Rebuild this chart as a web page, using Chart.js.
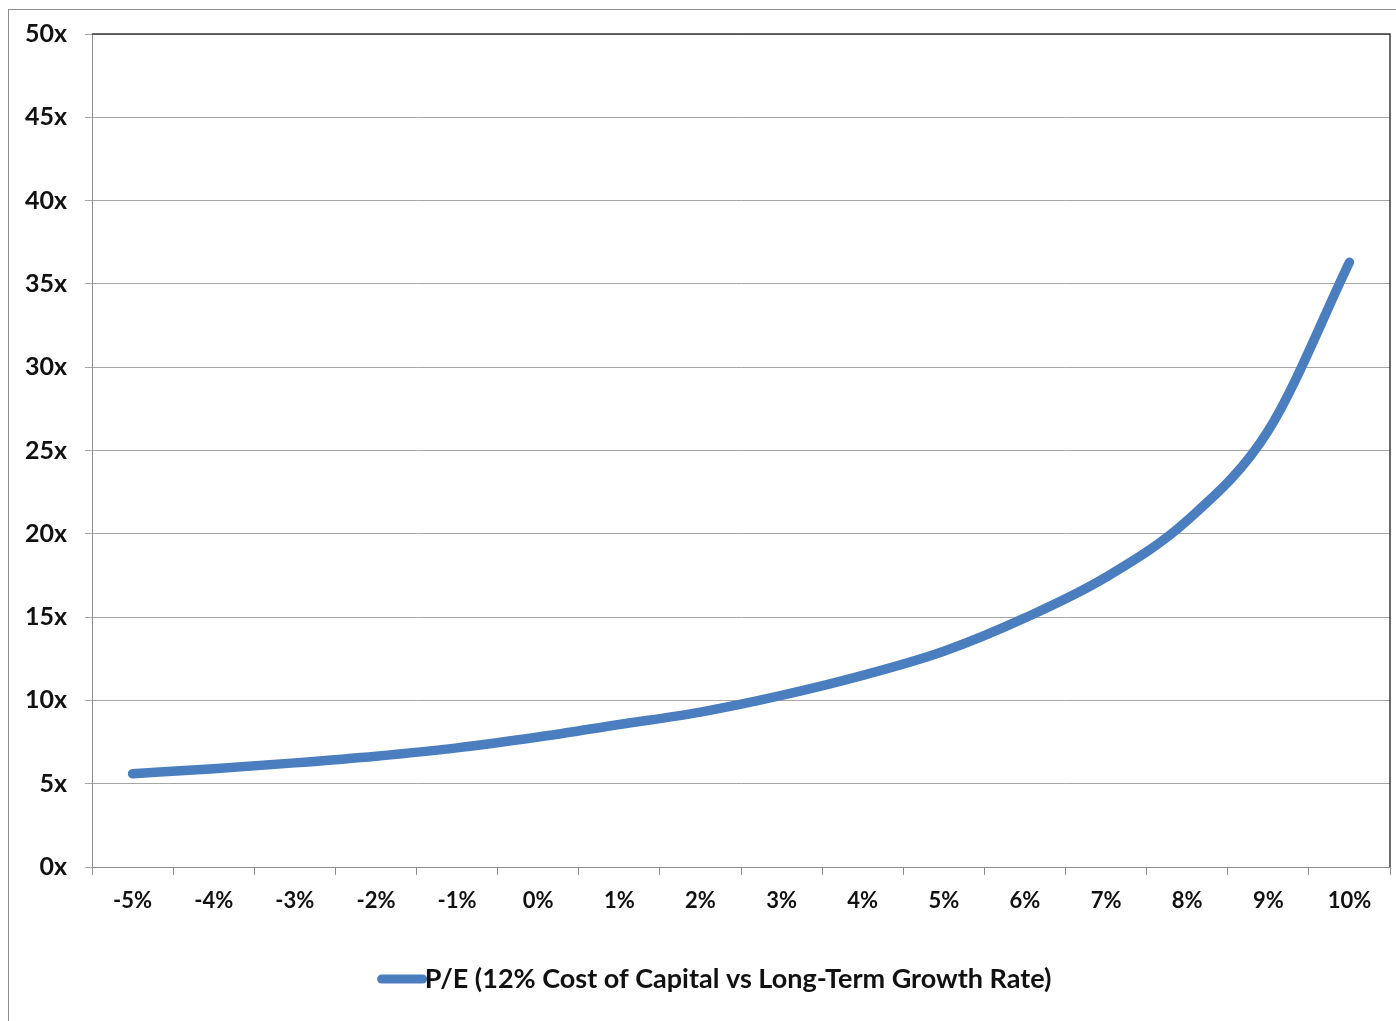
<!DOCTYPE html>
<html>
<head>
<meta charset="utf-8">
<script src="https://cdn.jsdelivr.net/npm/chart.js@4.4.1/dist/chart.umd.min.js"></script>
<style>
  html, body { margin: 0; padding: 0; background: #ffffff; overflow: hidden; }
  #frame { position: absolute; left: 8px; top: 9px; width: 1400px; height: 1030px; border: 1px solid #8c8c8c; box-sizing: border-box; }
  #wrap { position: absolute; left: 0; top: 0; width: 1396px; height: 1021px; }
</style>
</head>
<body>
<div id="frame"></div>
<div id="wrap"><canvas id="c" width="1396" height="1021"></canvas></div>
<script>
const categories = ['-5%', '-4%', '-3%', '-2%', '-1%', '0%', '1%', '2%', '3%', '4%', '5%', '6%', '7%', '8%', '9%', '10%'];
const peValues = [5.6, 5.9, 6.25, 6.65, 7.15, 7.8, 8.55, 9.3, 10.3, 11.5, 12.95, 14.95, 17.4, 20.8, 26.2, 36.3];
const seriesLabel = 'P/E (12% Cost of Capital vs Long-Term Growth Rate)';
const yMin = 0, yMax = 50, yStep = 5;

const FONT = 'Lato, "Open Sans", sans-serif';
const TEXT_COLOR = '#111111';
const LINE_COLOR = '#4a7ebf';

const plotBorder = {
  id: 'plotBorder',
  afterDatasetsDraw(chart) {
    const { ctx, chartArea: a } = chart;
    ctx.save();
    ctx.lineWidth = 1.5;
    ctx.strokeStyle = '#3a3a3a';
    ctx.beginPath();
    ctx.moveTo(a.left, a.top);
    ctx.lineTo(a.right, a.top);
    ctx.lineTo(a.right, a.bottom);
    ctx.stroke();
    ctx.restore();
  }
};

const customLegend = {
  id: 'customLegend',
  afterDraw(chart) {
    const { ctx } = chart;
    const ds = chart.data.datasets[0];
    ctx.save();
    ctx.font = 'bold 27px ' + FONT;
    const tw = ctx.measureText(ds.label).width;
    const sample = 48;
    const total = sample + tw;
    const cx = 714;
    const y = 979;
    const x0 = cx - total / 2;
    ctx.strokeStyle = ds.borderColor;
    ctx.lineWidth = 9;
    ctx.lineCap = 'round';
    ctx.beginPath();
    ctx.moveTo(x0 + 5, y);
    ctx.lineTo(x0 + sample - 2, y);
    ctx.stroke();
    ctx.fillStyle = TEXT_COLOR;
    ctx.textBaseline = 'middle';
    ctx.textAlign = 'left';
    ctx.fillText(ds.label, x0 + sample, y);
    ctx.restore();
  }
};

new Chart(document.getElementById('c'), {
  type: 'line',
  data: {
    labels: categories,
    datasets: [{
      label: seriesLabel,
      data: peValues,
      borderColor: LINE_COLOR,
      backgroundColor: LINE_COLOR,
      borderWidth: 9.5,
      borderCapStyle: 'round',
      borderJoinStyle: 'round',
      pointRadius: 0,
      pointHoverRadius: 0,
      cubicInterpolationMode: 'monotone',
      fill: false
    }]
  },
  options: {
    responsive: false,
    animation: false,
    devicePixelRatio: 1,
    layout: { padding: { left: 0, right: 6, top: 34, bottom: 0 } },
    plugins: {
      legend: { display: false },
      tooltip: { enabled: false },
      title: { display: false }
    },
    scales: {
      x: {
        type: 'category',
        offset: true,
        grid: {
          offset: true,
          drawOnChartArea: false,
          drawTicks: true,
          tickLength: 8,
          color: '#8c8c8c',
          lineWidth: 1
        },
        border: { display: true, color: '#8c8c8c', width: 1 },
        ticks: {
          color: TEXT_COLOR,
          font: { family: FONT, size: 22, weight: 'bold' },
          padding: 13,
          maxRotation: 0,
          autoSkip: false
        },
        afterFit(scale) { scale.height = 154; }
      },
      y: {
        min: yMin,
        max: yMax,
        grid: {
          color: '#a6a6a6',
          lineWidth: 1,
          drawTicks: true,
          tickLength: 7
        },
        border: { display: true, color: '#8c8c8c', width: 1 },
        ticks: {
          stepSize: yStep,
          color: TEXT_COLOR,
          font: { family: FONT, size: 25, weight: 'bold' },
          padding: 18,
          callback: v => v + 'x'
        },
        afterFit(scale) { scale.width = 92; }
      }
    }
  },
  plugins: [plotBorder, customLegend]
});
</script>
</body>
</html>
